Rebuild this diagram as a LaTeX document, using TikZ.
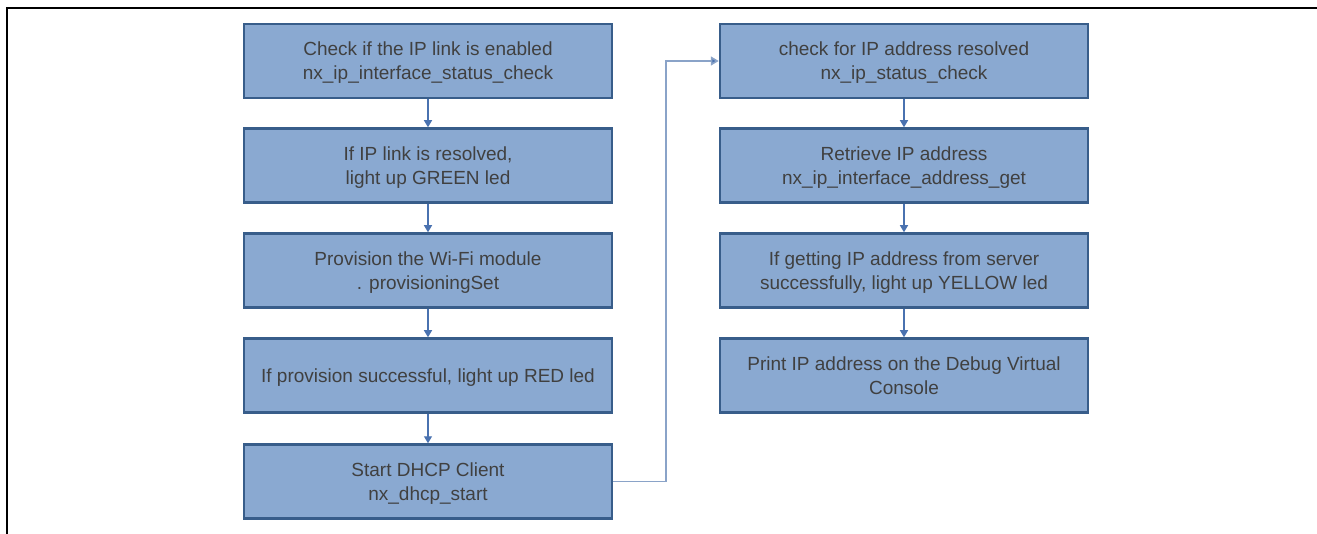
\documentclass[tikz,border=0pt]{standalone}
\usepackage{fontspec}
\setmainfont{Liberation Sans}
\usetikzlibrary{arrows.meta}
\definecolor{boxfill}{HTML}{8AA9D1}
\definecolor{boxline}{HTML}{385D8A}
\definecolor{txtgray}{HTML}{404040}
\definecolor{arrblue}{HTML}{4A72B0}
\definecolor{connblue}{HTML}{8AA3C8}
\tikzset{
  flowbox/.style={draw=boxline, fill=boxfill, line width=2.5pt, minimum width=368pt, minimum height=74pt,
    inner sep=0pt, align=center, text=txtgray, text depth=0pt, font=\fontsize{19}{24}\selectfont},
  downarr/.style={draw=arrblue, line width=1.2pt, -{Triangle[length=7pt,width=8pt]}},
  linkarr/.style={draw=connblue, line width=1.6pt, -{Triangle[length=8pt,width=9pt,fill=arrblue]}},
  frameline/.style={draw=black, line width=2pt}
}
\begin{document}
\begin{tikzpicture}[x=1pt,y=-1pt]
\useasboundingbox (0,0) rectangle (1317,534);
\draw[frameline] (7,534) -- (7,8) -- (1317,8);
% left column
\node[flowbox] (L1) at (428,61) {Check if the IP link is enabled\\nx\_ip\_interface\_status\_check};
\node[flowbox] (L2) at (428,165.5) {If IP link is resolved,\\light up GREEN led};
\node[flowbox] (L3) at (428,270.5) {Provision the Wi-Fi module\\. provisioningSet};
\node[flowbox] (L4) at (428,375.5) {If provision successful, light up RED led};
\node[flowbox] (L5) at (428,481.5) {Start DHCP Client\\nx\_dhcp\_start};
% right column
\node[flowbox] (R1) at (904,61) {check for IP address resolved\\nx\_ip\_status\_check};
\node[flowbox] (R2) at (904,165.5) {Retrieve IP address\\nx\_ip\_interface\_address\_get};
\node[flowbox] (R3) at (904,270.5) {If getting IP address from server\\successfully, light up YELLOW led};
\node[flowbox] (R4) at (904,375.5) {Print IP address on the Debug Virtual\\Console};
% arrows
\draw[downarr] (L1) -- (L2);
\draw[downarr] (L2) -- (L3);
\draw[downarr] (L3) -- (L4);
\draw[downarr] (L4) -- (L5);
\draw[downarr] (R1) -- (R2);
\draw[downarr] (R2) -- (R3);
\draw[downarr] (R3) -- (R4);
\draw[linkarr] (L5.east) -- ++(53,0) |- (R1.west);
\end{tikzpicture}
\end{document}
